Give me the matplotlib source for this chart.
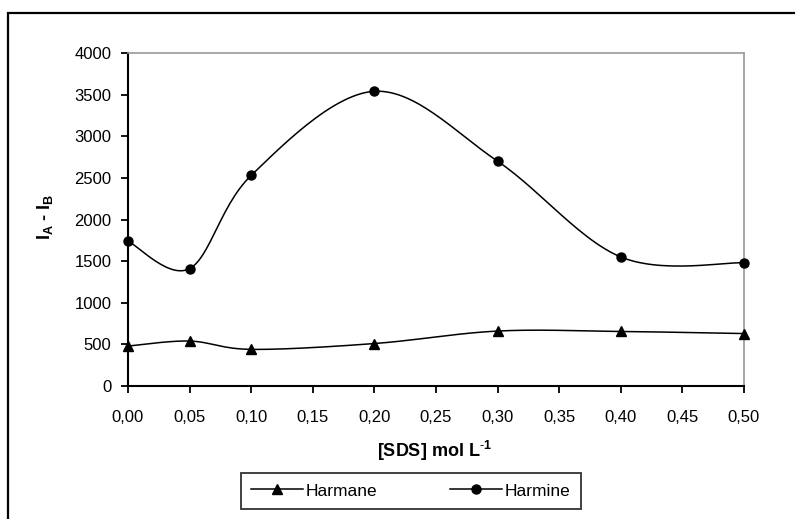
import numpy as np
import matplotlib
matplotlib.use("Agg")
import matplotlib.pyplot as plt
from matplotlib.patches import Rectangle
from matplotlib.ticker import FuncFormatter

plt.rcParams['font.family'] = ['Liberation Sans', 'DejaVu Sans']
plt.rcParams['mathtext.fontset'] = 'custom'
plt.rcParams['mathtext.rm'] = 'Liberation Sans'
plt.rcParams['mathtext.bf'] = 'Liberation Sans:bold'

# data
sds = [0.00, 0.05, 0.10, 0.20, 0.30, 0.40, 0.50]
harmane = [480, 540, 440, 510, 660, 655, 630]
harmine = [1740, 1410, 2530, 3540, 2700, 1550, 1480]


def excel_smooth(x, y, n=30):
    # bezier smoothing like the spreadsheet "smoothed line" option
    x = np.asarray(x, float)
    y = np.asarray(y, float)
    px = np.concatenate([[x[0]], x, [x[-1]]])
    py = np.concatenate([[y[0]], y, [y[-1]]])
    xs, ys = [], []
    t = np.linspace(0, 1, n)
    for i in range(1, len(px) - 2):
        p0 = np.array([px[i], py[i]])
        p3 = np.array([px[i + 1], py[i + 1]])
        c1 = p0 + (np.array([px[i + 1], py[i + 1]]) - np.array([px[i - 1], py[i - 1]])) / 6
        c2 = p3 - (np.array([px[i + 2], py[i + 2]]) - np.array([px[i], py[i]])) / 6
        b = ((1 - t) ** 3)[:, None] * p0 + (3 * (1 - t) ** 2 * t)[:, None] * c1 \
            + (3 * (1 - t) * t ** 2)[:, None] * c2 + (t ** 3)[:, None] * p3
        xs.extend(b[:, 0])
        ys.extend(b[:, 1])
    return xs, ys


fig = plt.figure(figsize=(7.95, 5.19), dpi=100)
ax = fig.add_axes([128 / 795, 1 - 386 / 519, (744 - 128) / 795, (386 - 53) / 519])

# outer frame (cut off at right and bottom)
fig.patches.append(Rectangle((8 / 795, -0.2), 1.2, 1.2 - 13 / 519,
                             transform=fig.transFigure, fill=False,
                             edgecolor='black', linewidth=1.6))

for ys, mk, lab in [(harmane, '^', 'Harmane'), (harmine, 'o', 'Harmine')]:
    sx, sy = excel_smooth(sds, ys)
    ax.plot(sx, sy, color='black', linewidth=1.1, clip_on=False)
    ax.plot(sds, ys, linestyle='none', marker=mk, color='black',
            markersize=6.5, clip_on=False, zorder=5)
    ax.plot([], [], color='black', marker=mk, markersize=6.5, linewidth=1.1, label=lab)

ax.set_xlim(0, 0.5)
ax.set_ylim(0, 4000)
ax.set_xticks(np.arange(0, 0.51, 0.05))
ax.set_yticks(np.arange(0, 4001, 500))
ax.xaxis.set_major_formatter(FuncFormatter(lambda v, p: f"{v:.2f}".replace('.', ',')))
ax.tick_params(direction='out', length=5, width=1.3, labelsize=12, color='black')
ax.tick_params(axis='x', pad=12)
ax.tick_params(axis='y', pad=7)
ax.spines['left'].set_linewidth(1.5)
ax.spines['bottom'].set_linewidth(1.5)
ax.spines['top'].set_color('#999999')
ax.spines['right'].set_color('#999999')
ax.spines['top'].set_linewidth(1.2)
ax.spines['right'].set_linewidth(1.2)

fig.text(434 / 795, 1 - 451 / 519, r'[SDS] mol L$^{\mathbf{\text{-}1}}$', ha='center', va='center',
         fontsize=13, fontweight='bold')
fig.text(45 / 795, 1 - 217 / 519, r'I$_\mathbf{A}$ - I$_\mathbf{B}$', ha='center', va='center',
         fontsize=13, fontweight='bold', rotation=90)

leg = fig.legend(loc='center', bbox_to_anchor=(411 / 795, 1 - 491 / 519), ncol=2,
                 frameon=True, fancybox=False, fontsize=12.5, handlelength=3,
                 handletextpad=0.15, columnspacing=4.2, borderpad=0.6, borderaxespad=0)
leg.get_frame().set_edgecolor('black')
leg.get_frame().set_linewidth(1.3)

fig.savefig('out.png', dpi=100)
